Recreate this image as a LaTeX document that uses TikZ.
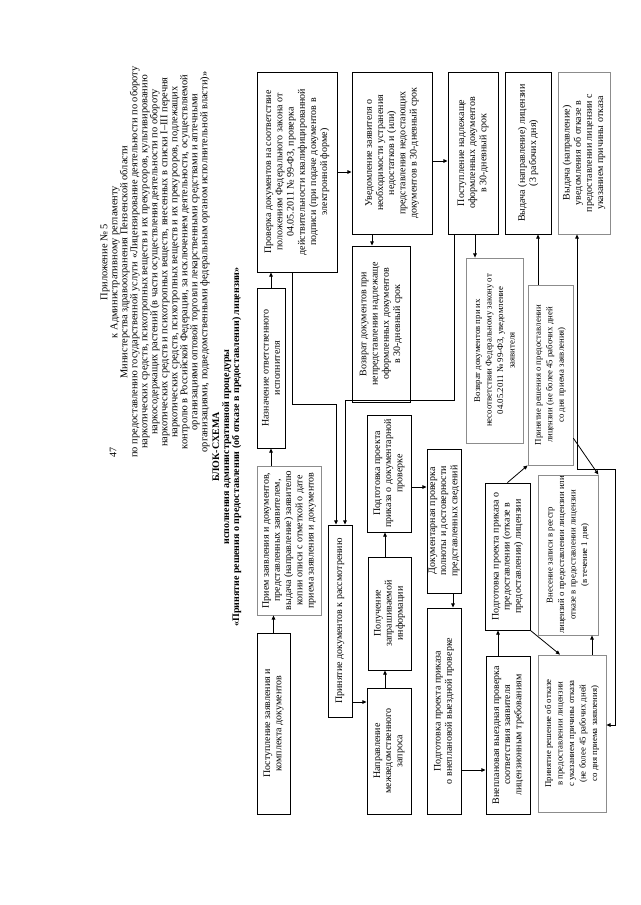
\documentclass[tikz,border=0pt]{standalone}
\usepackage{fontspec}
\setmainfont{Liberation Serif}
\usetikzlibrary{arrows.meta,calc}

\begin{document}
\begin{tikzpicture}[x=1pt, y=-1pt, >={Triangle[length=4.2pt, width=3.6pt]},
  line width=0.8pt,
  blk/.style={draw, line width=0.9pt, rotate=90, align=center, inner sep=1pt,
              font=\fontsize{10}{11.2}\selectfont},
  gry/.style={blk, draw=black!45, line width=0.8pt},
  small/.style={font=\fontsize{8.8}{11.5}\selectfont},
  sz/.style 2 args={minimum height=#1pt, minimum width=#2pt}]
  \useasboundingbox (0,0) rectangle (640,905);

  % page number, heading
  \node[rotate=90, font=\fontsize{10}{10.5}\selectfont] (pg) at (113,452) {47};
  \node[rotate=90, align=center, font=\fontsize{10.4}{10}\selectfont] (head) at (155,262)
    {Приложение № 5\\
     к Административному регламенту\\
     Министерства здравоохранения Пензенской области\\
     по предоставлению государственной услуги «Лицензирование деятельности по обороту\\
     наркотических средств, психотропных веществ и их прекурсоров, культивированию\\
     наркосодержащих растений (в части осуществления деятельности по обороту\\
     наркотических средств и психотропных веществ, внесенных в списки I--III перечня\\
     наркотических средств, психотропных веществ и их прекурсоров, подлежащих\\
     контролю в Российской Федерации, за исключением деятельности, осуществляемой\\
     организациями оптовой торговли лекарственными средствами и аптечными\\
     организациями, подведомственными федеральным органом исполнительной власти)»};
  \node[rotate=90, align=center, font=\bfseries\fontsize{10}{10}\selectfont] (title) at (227,447)
    {БЛОК-СХЕМА\\
     исполнения административной процедуры\\
     «Принятие решения о предоставлении (об отказе в предоставлении) лицензии»};

  % first row
  \node[blk, sz={33}{181}] (post) at (273.5,723.5) {Поступление заявления и\\комплекта документов};
  \node[gry, sz={64}{149}] (priem) at (289,540.5)
    {Прием заявления и документов,\\представленных заявителем,\\выдача (направление) заявителю\\копии описи с отметкой о дате\\приема заявления и документов};
  \node[blk, sz={28}{160}] (naznach) at (271,368) {Назначение ответственного\\исполнителя};
  \node[blk, sz={80}{200}] (prov) at (297,172)
    {Проверка документов на соответствие\\положениям Федерального закона от\\04.05.2011 № 99-ФЗ, проверка\\действительности квалифицированной\\подписи (при подаче документов в\\электронной форме)};

  % checks of documents
  \node[blk, sz={80}{162}] (uved) at (392,153)
    {Уведомление заявителя о\\необходимости устранения\\недостатков и (или)\\представления недостающих\\документов в 30-дневный срок};
  \node[blk, sz={58}{156}] (vozv1) at (381,324)
    {Возврат документов при\\непредставлении надлежаще\\оформленных документов\\в 30-дневный срок};
  \node[blk, sz={50}{162}] (postn) at (473,153)
    {Поступление надлежаще\\оформленных документов\\в 30-дневный срок};
  \node[gry, small, sz={57}{185}] (vozv2) at (494.5,350.5)
    {Возврат документов при их\\несоответствии Федеральному закону от\\04.05.2011 № 99-ФЗ, уведомление\\заявителя};
  \node[blk, sz={46}{162}] (vydl) at (528,153) {Выдача (направление) лицензии\\(3 рабочих дня)};
  \node[gry, sz={52}{162}] (vydu) at (584,153)
    {Выдача (направление)\\уведомления об отказе в\\предоставлении лицензии с\\указанием причины отказа};

  % procedure chain
  \node[blk, sz={24}{192}] (prin) at (340,621) {Принятие документов к рассмотрению};
  \node[blk, sz={44}{126}] (napr) at (389,751) {Направление\\межведомственного\\запроса};
  \node[blk, sz={43}{113}] (polu) at (389.5,613.5) {Получение\\запрашиваемой\\информации};
  \node[blk, sz={44}{117}] (podg1) at (389,473.5) {Подготовка проекта\\приказа о документарной\\проверке};
  \node[blk, sz={34}{144}] (dokp) at (444,521)
    {Документарная проверка\\полноты и достоверности\\представленных сведений};
  \node[blk, sz={34}{206}] (podg2) at (444,711)
    {Подготовка проекта приказа\\о внеплановой выездной проверке};
  \node[blk, sz={44}{158}] (vnep) at (508,735)
    {Внеплановая выездная проверка\\соответствия заявителя\\лицензионным требованиям};
  \node[blk, sz={45}{147}] (podg3) at (507.5,556.5)
    {Подготовка проекта приказа о\\предоставлении (отказе в\\предоставлении) лицензии};
  \node[gry, small, sz={45}{180}] (prinr) at (550.5,375)
    {Принятие решения о предоставлении\\лицензии (не более 45 рабочих дней\\со дня приема заявления)};
  \node[gry, small, sz={60}{160}] (vnes) at (568,555)
    {Внесение записи в реестр\\лицензий о предоставлении лицензии или\\отказе в предоставлении лицензии\\(в течение 1 дня)};
  \node[gry, small, sz={68}{157}] (prino) at (572,733.5)
    {Принятие решение об отказе\\в предоставлении лицензии\\с указанием причины отказа\\(не более 45 рабочих дней\\со дня приема заявления)};

  % connectors
  \draw[->] (post.east) -- (post.east |- priem.west);
  \draw[->] (priem.east -| naznach.west) -- (naznach.west);
  \draw[->] (naznach.east) -- (naznach.east |- prov.west);
  \draw[->] (prov.south) -- (prov.south -| uved.north);
  \draw[->] (uved.south |- 0,161) -- (postn.north |- 0,161);
  \draw[->] (uved.west -| 372,0) -- (vozv1.east -| 372,0);
  \draw[->] (postn.west -| 475,0) -- (vozv2.east -| 475,0);
  \draw[->] (prov.west -| 292,0) -- (292,404) -| (prin.east -| 336,0);
  \draw[->] (postn.west -| 454,0) -- (454,400) -| (prin.east -| 345,0);
  \draw[->] (prin.south |- 0,702) -- (napr.north |- 0,702);
  \draw[->] (napr.east -| 385,0) -- (polu.west -| 385,0);
  \draw[->] (polu.east -| 385,0) -- (podg1.west -| 385,0);
  \draw[->] (podg1.south |- 0,487) -- (dokp.north |- 0,487);
  \draw[->] (dokp.west -| 453,0) -- (podg2.east -| 453,0);
  \draw[->] (podg2.south |- 0,770) -- (vnep.north |- 0,770);
  \draw[->] (vnep.east -| 498,0) -- (podg3.west -| 498,0);
  \draw[->] (podg3.east) -- (prinr.north west);
  \draw[->] (podg3.south west) -- (prino.east -| 560,0);
  \draw[->] (prinr.east -| 538,0) -- (vydl.west -| 538,0);
  \draw[->] ($(prinr.south west)!0.15!(prinr.south east)$) -- (vnes.south east);
  \draw[->] (prino.east -| 592,0) -- (vnes.west -| 592,0);
  \draw[<->] (prino.south |- 0,725) -- (615,725) |- (577,469) -- (vydu.west -| 577,0);
\end{tikzpicture}
\end{document}
